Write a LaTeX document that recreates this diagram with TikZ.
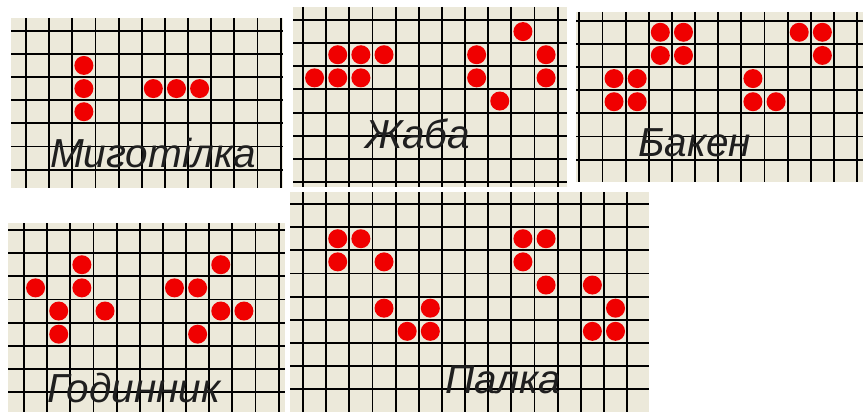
\documentclass[tikz,border=0pt]{standalone}
\usepackage{fontspec}
\setmainfont{Liberation Sans}
\definecolor{bgc}{RGB}{236,233,218}
\definecolor{dotc}{RGB}{240,0,0}
\newcommand\cellsz{23.15}
\newcommand\gridpanel[8]{%
  \fill[bgc] (#1,#2) rectangle (#3,#4);
  \foreach \i in {1,...,#7} \draw[gridline] ({#5+(\i-1)*\cellsz},#2) -- ({#5+(\i-1)*\cellsz},#4);
  \foreach \j in {1,...,#8} \draw[gridline] (#1,{#6+(\j-1)*\cellsz}) -- (#3,{#6+(\j-1)*\cellsz});
}
\newcommand\lifecells[3]{%
  \foreach \c/\r in {#3} \fill[dotc] ({#1+(\c+0.5)*\cellsz},{#2+(\r+0.5)*\cellsz}) circle[radius=9.5pt];
}
\begin{document}
\begin{tikzpicture}[x=1pt,y=-1pt,
  gridline/.style={line width=1.9pt,black},
  lbl/.style={font=\fontsize{40.5}{40.5}\selectfont\itshape,text=black!88,inner sep=0pt,anchor=base west}]
\useasboundingbox (0,0) rectangle (863,412);
\clip (0,0) rectangle (863,412);
\fill[white] (0,0) rectangle (863,412);
% Panel 1
\gridpanel{11}{18}{283}{188}{26}{30.7}{12}{7}
\lifecells{26}{30.7}{2/1,2/2,2/3,5/2,6/2,7/2}
\node[lbl] (t1) at (50,167) {Миготілка};
% Panel 2
\gridpanel{293}{7}{567}{187}{303}{20}{12}{8}
\lifecells{303}{20}{1/1,2/1,3/1,0/2,1/2,2/2,9/0,7/1,10/1,7/2,10/2,8/3}
\node[lbl] (t2) at (365,148) {Жаба};
% Panel 3
\gridpanel{576}{12}{863}{182}{579.3}{20.7}{13}{7}
\lifecells{579.3}{20.7}{3/0,4/0,3/1,4/1,1/2,2/2,1/3,2/3,9/0,10/0,10/1,7/2,7/3,8/3}
\node[lbl] (t3) at (638,156) {Бакен};
% Panel 4
\gridpanel{8}{223}{285}{412}{24}{230}{12}{8}
\lifecells{24}{230}{2/1,0/2,2/2,1/3,3/3,1/4,8/1,6/2,7/2,8/3,9/3,7/4}
\node[lbl] (t4) at (47,402) {Годинник};
% Panel 5
\gridpanel{290}{192}{649}{412}{303}{204}{15}{9}
\lifecells{303}{204}{1/1,2/1,1/2,3/2,3/4,5/4,4/5,5/5,9/1,10/1,9/2,10/3,12/3,13/4,12/5,13/5}
\node[lbl] (t5) at (445,393) {Палка};
\end{tikzpicture}
\end{document}
